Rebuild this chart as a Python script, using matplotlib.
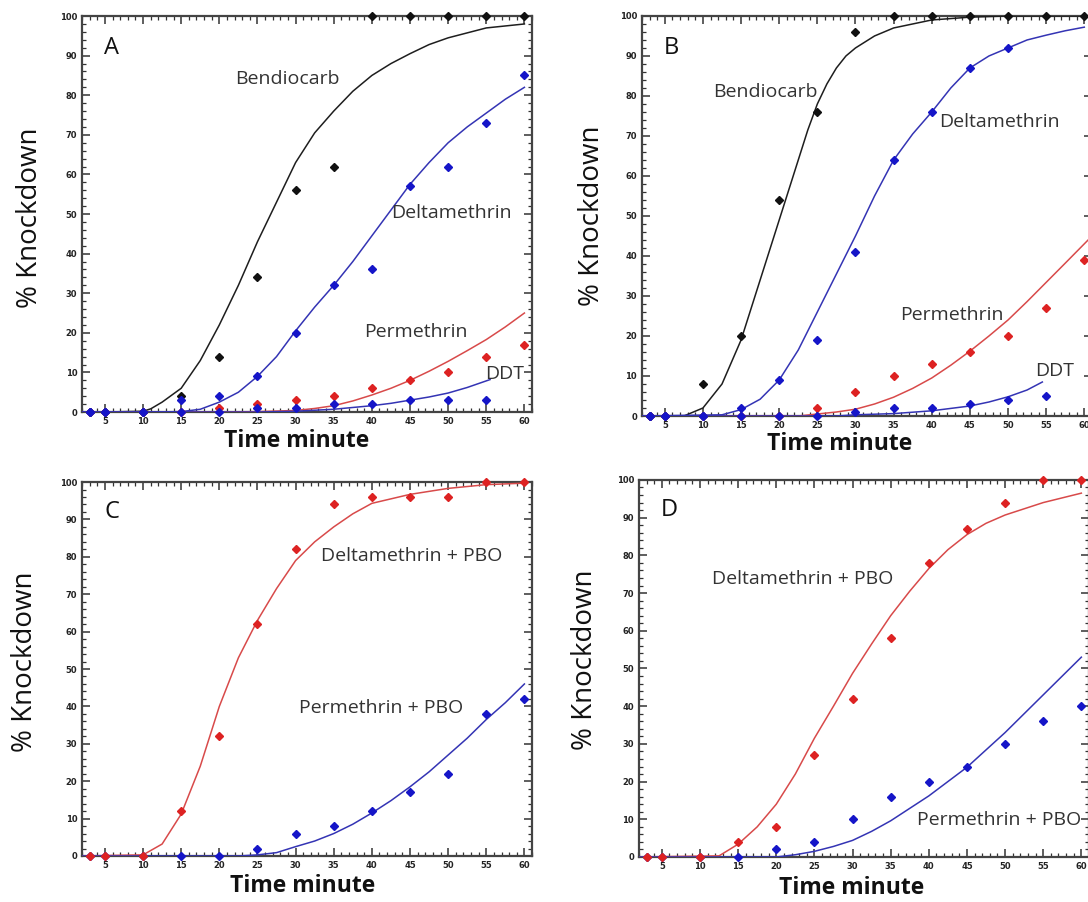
import matplotlib
matplotlib.use("Agg")
import matplotlib.pyplot as plt
from matplotlib.ticker import MultipleLocator

# observed knockdown (% at each minute)
t = [3, 5, 10, 15, 20, 25, 30, 35, 40, 45, 50, 55, 60]

a_bendio = [0, 0, 0, 4, 14, 34, 56, 62, 100, 100, 100, 100, 100]
a_delta = [0, 0, 0, 0, 4, 9, 20, 32, 36, 57, 62, 73, 85]
a_perm = [0, 0, 0, 0, 1, 2, 3, 4, 6, 8, 10, 14, 17]
a_ddt_t = [3, 5, 10, 15, 20, 25, 30, 35, 40, 45, 50, 55]
a_ddt = [0, 0, 0, 3, 0, 1, 1, 2, 2, 3, 3, 3]

b_bendio = [0, 0, 8, 20, 54, 76, 96, 100, 100, 100, 100, 100, 100]
b_delta_t = [3, 5, 10, 15, 20, 25, 30, 35, 40, 45, 50]
b_delta = [0, 0, 0, 2, 9, 19, 41, 64, 76, 87, 92]
b_perm = [0, 0, 0, 0, 0, 2, 6, 10, 13, 16, 20, 27, 39]
b_ddt_t = [3, 5, 10, 15, 20, 25, 30, 35, 40, 45, 50, 55]
b_ddt = [0, 0, 0, 0, 0, 0, 1, 2, 2, 3, 4, 5]

c_delta_pbo = [0, 0, 0, 12, 32, 62, 82, 94, 96, 96, 96, 100, 100]
c_perm_pbo = [0, 0, 0, 0, 0, 2, 6, 8, 12, 17, 22, 38, 42]

d_delta_pbo = [0, 0, 0, 4, 8, 27, 42, 58, 78, 87, 94, 100, 100]
d_perm_pbo = [0, 0, 0, 0, 2, 4, 10, 16, 20, 24, 30, 36, 40]

# fitted curves
fa_bendio_t = [2, 5, 10, 11, 12.5, 15, 17.5, 20, 22.5, 25, 27.5, 30, 32.5, 35, 37.5, 40, 42.5, 45, 47.5, 50, 55, 60]
fa_bendio = [0, 0, 0.2, 0.8, 2.5, 6, 13, 22, 32, 43, 53, 63, 70.5, 76, 81, 85, 88, 90.5, 92.8, 94.5, 97, 98]
fa_delta_t = [2, 10, 15, 17.5, 20, 22.5, 25, 27.5, 30, 32.5, 35, 37.5, 40, 42.5, 45, 47.5, 50, 52.5, 55, 57.5, 60]
fa_delta = [0, 0, 0.1, 0.7, 2.5, 5, 9, 14, 20.5, 26.5, 32, 38, 44.5, 51, 57.5, 63, 68, 72, 75.5, 79, 82]
fa_perm_t = [2, 20, 25, 30, 32.5, 35, 37.5, 40, 42.5, 45, 47.5, 50, 52.5, 55, 57.5, 60]
fa_perm = [0, 0, 0.1, 0.4, 0.9, 1.6, 2.8, 4.3, 6, 8, 10.3, 12.8, 15.5, 18.3, 21.5, 25]
fa_ddt_t = [2, 25, 30, 35, 40, 42.5, 45, 47.5, 50, 52.5, 55.5]
fa_ddt = [0, 0, 0.2, 0.7, 1.6, 2.2, 3, 3.8, 4.8, 6.2, 8.2]

fb_bendio_t = [2, 7.5, 10, 12.5, 15, 17.5, 20, 22.5, 23.75, 25, 26.25, 27.5, 28.75, 30, 32.5, 35, 40, 45, 50, 55, 60]
fb_bendio = [0, 0, 2, 8, 19, 34, 49, 64, 71.5, 78, 83, 87, 90, 92, 95, 97, 99, 99.7, 100, 100, 100]
fb_delta_t = [2, 12.5, 15, 17.5, 20, 22.5, 25, 27.5, 30, 32.5, 35, 37.5, 40, 42.5, 45, 47.5, 50, 52.5, 55, 57.5, 60]
fb_delta = [0, 0.3, 1.6, 4.2, 9, 16.5, 26, 35.5, 45, 55, 64, 70.5, 76, 82, 87, 90, 92, 94, 95.2, 96.3, 97.2]
fb_perm_t = [2, 22.5, 25, 27.5, 30, 32.5, 35, 37.5, 40, 42.5, 45, 47.5, 50, 52.5, 55, 57.5, 60.5]
fb_perm = [0, 0, 0.5, 1, 1.7, 3, 4.7, 6.9, 9.5, 12.7, 16.2, 20, 24, 28.6, 33.4, 38.2, 44]
fb_ddt_t = [2, 27.5, 30, 35, 40, 45, 47.5, 50, 52.5, 54.5]
fb_ddt = [0, 0, 0.3, 0.6, 1.3, 2.5, 3.5, 4.8, 6.5, 8.5]

fc_delta_t = [2, 10, 12.5, 15, 17.5, 20, 22.5, 25, 27.5, 30, 32.5, 35, 37.5, 40, 45, 50, 55, 60]
fc_delta = [0, 0.3, 3.2, 11.2, 24, 40, 53, 63, 71.5, 79, 84, 88, 91.5, 94.3, 96.7, 98.3, 99.3, 99.7]
fc_perm_t = [2, 22.5, 25, 27.5, 30, 32.5, 35, 37.5, 40, 42.5, 45, 47.5, 50, 52.5, 55, 57.5, 60]
fc_perm = [0, 0, 0.3, 0.9, 2.5, 4, 6, 8.5, 11.5, 14.8, 18.5, 22.5, 27, 31.5, 36.5, 41, 46]

fd_delta_t = [2, 12.5, 15, 17.5, 20, 22.5, 25, 27.5, 30, 32.5, 35, 37.5, 40, 42.5, 45, 47.5, 50, 55, 60]
fd_delta = [0, 0.3, 3.4, 8, 14, 22, 31.5, 40, 48.7, 56.5, 64, 70.5, 76.5, 81.5, 85.5, 88.5, 90.7, 94, 96.5]
fd_perm_t = [2, 20, 22.5, 25, 27.5, 30, 32.5, 35, 40, 45, 50, 55, 60]
fd_perm = [0, 0, 0.6, 1.5, 2.8, 4.4, 6.8, 9.6, 16.2, 23.8, 33, 43, 53]

PT_K, PT_B, PT_R = "#111111", "#1515c8", "#dd2222"
LN_K, LN_B, LN_R = "#1e1e1e", "#3434b4", "#d84a4a"
TXT = "#333333"

fig = plt.figure(figsize=(10.88, 9.02), dpi=100)

def panel(rect, letter):
    ax = fig.add_axes(rect)
    ax.set_xlim(2, 61)
    ax.set_ylim(0, 100)
    ax.xaxis.set_major_locator(MultipleLocator(5))
    ax.xaxis.set_minor_locator(MultipleLocator(1))
    ax.yaxis.set_major_locator(MultipleLocator(10))
    ax.yaxis.set_minor_locator(MultipleLocator(2))
    ax.tick_params(which="both", direction="in", top=True, right=True,
                   color="#333333")
    ax.tick_params(which="major", length=6, width=1.1, labelsize=6, pad=3.5)
    ax.tick_params(which="minor", length=3, width=0.9)
    for lab in ax.get_xticklabels() + ax.get_yticklabels():
        lab.set_fontweight("bold")
        lab.set_color("#222222")
    for s in ax.spines.values():
        s.set_color("#444444")
        s.set_linewidth(1.6)
    ax.text(4.9, 92, letter, fontsize=17, family="Open Sans", color="#111111",
            va="center", ha="left")
    return ax

def pts(ax, x, y, c):
    ax.plot(x, y, ls="none", marker="D", ms=3.6, color=c, clip_on=False, zorder=4)

def crv(ax, x, y, c):
    ax.plot(x, y, color=c, lw=1.1, zorder=3)

def note(ax, x, y, s):
    ax.text(x, y, s, fontsize=14, family="Open Sans", color=TXT, ha="left", va="center")

# A
ax = panel([0.0754, 0.5432, 0.4136, 0.439], "A")
crv(ax, fa_bendio_t, fa_bendio, LN_K)
crv(ax, fa_perm_t, fa_perm, LN_R)
crv(ax, fa_ddt_t, fa_ddt, LN_B)
crv(ax, fa_delta_t, fa_delta, LN_B)
pts(ax, t, a_bendio, PT_K)
pts(ax, t, a_perm, PT_R)
pts(ax, a_ddt_t, a_ddt, PT_B)
pts(ax, t, a_delta, PT_B)
note(ax, 22.1, 84, "Bendiocarb")
note(ax, 42.5, 50.2, "Deltamethrin")
note(ax, 39.0, 20.1, "Permethrin")
note(ax, 54.9, 9.6, "DDT")

# B
ax = panel([0.590, 0.5388, 0.4136, 0.4435], "B")
crv(ax, fb_bendio_t, fb_bendio, LN_K)
crv(ax, fb_perm_t, fb_perm, LN_R)
crv(ax, fb_ddt_t, fb_ddt, LN_B)
crv(ax, fb_delta_t, fb_delta, LN_B)
pts(ax, t, b_bendio, PT_K)
pts(ax, t, b_perm, PT_R)
pts(ax, b_ddt_t, b_ddt, PT_B)
pts(ax, b_delta_t, b_delta, PT_B)
note(ax, 11.4, 80.9, "Bendiocarb")
note(ax, 41.0, 73.6, "Deltamethrin")
note(ax, 35.8, 25.2, "Permethrin")
note(ax, 53.6, 11.3, "DDT")

# C
ax = panel([0.0754, 0.051, 0.4136, 0.4146], "C")
crv(ax, fc_delta_t, fc_delta, LN_R)
crv(ax, fc_perm_t, fc_perm, LN_B)
pts(ax, t, c_perm_pbo, PT_B)
pts(ax, t, c_delta_pbo, PT_R)
note(ax, 33.3, 80.2, "Deltamethrin + PBO")
note(ax, 30.4, 39.5, "Permethrin + PBO")

# D
ax = panel([0.5873, 0.0499, 0.4136, 0.418], "D")
crv(ax, fd_delta_t, fd_delta, LN_R)
crv(ax, fd_perm_t, fd_perm, LN_B)
pts(ax, t, d_perm_pbo, PT_B)
pts(ax, t, d_delta_pbo, PT_R)
note(ax, 11.55, 73.7, "Deltamethrin + PBO")
note(ax, 38.4, 9.9, "Permethrin + PBO")

# axis titles placed in pixels of the 1088x902 canvas
W, H = 1088.0, 902.0
for (px, py) in [(30, 218), (592, 216), (25, 662), (585, 660)]:
    fig.text(px / W, 1 - py / H, "% Knockdown", rotation=90, fontsize=20,
             family="Open Sans", color="#111111", ha="center", va="center")
for (px, py) in [(297, 441), (840, 444), (303, 886), (852, 888)]:
    fig.text(px / W, 1 - py / H, "Time minute", fontsize=16.5, fontweight="bold",
             family="Open Sans", color="#111111", ha="center", va="center")

fig.savefig("out.png", dpi=100)
